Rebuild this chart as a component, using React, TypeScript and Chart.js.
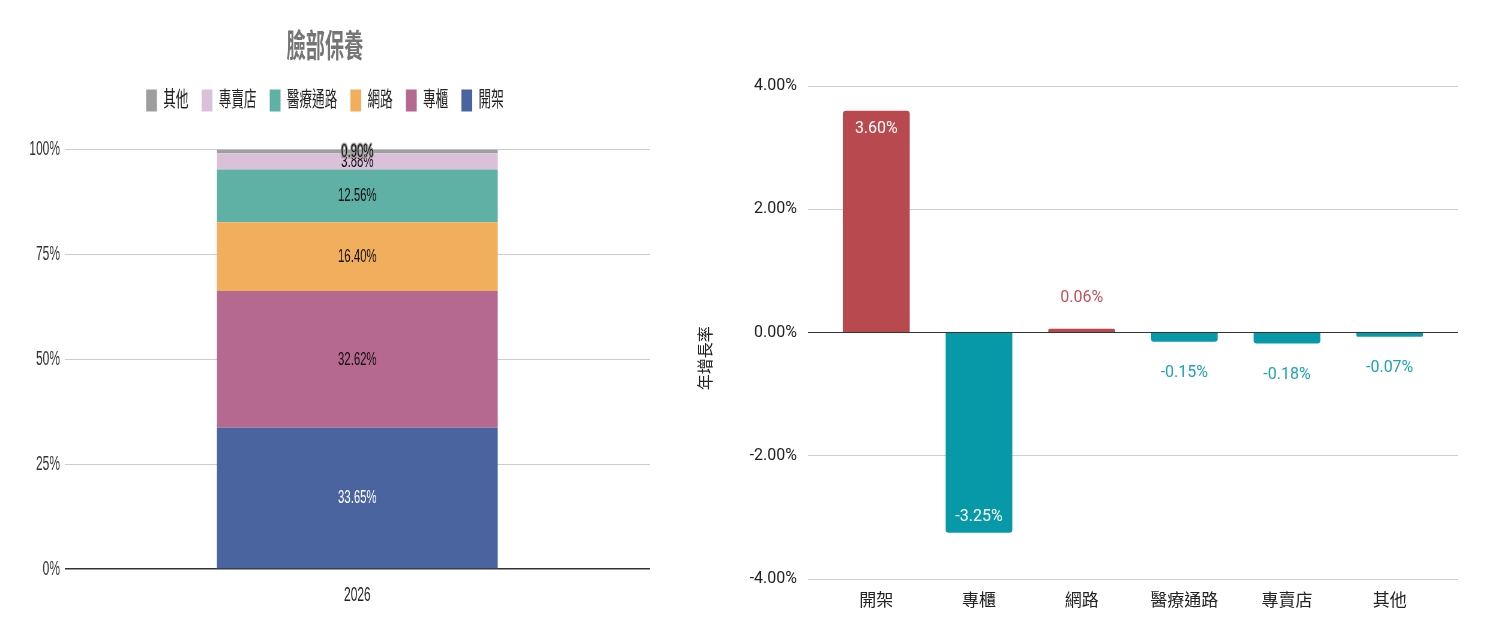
import { useEffect, useRef } from 'react';
import { Chart, registerables } from 'chart.js';

Chart.register(...registerables);

// 臉部保養 channel share (100% stacked) and year-on-year growth
const shareYears = ['2026'];
const channels = ['開架', '專櫃', '網路', '醫療通路', '專賣店', '其他'];
const shareValues = [33.65, 32.62, 16.4, 12.56, 3.88, 0.9];
const shareTicks = [0, 25, 50, 75, 100];
const growthValues = [3.6, -3.25, 0.06, -0.15, -0.18, -0.07];
const growthTicks = [-4, -2, 0, 2, 4];

const shareColors = ['#4a64a0', '#b66990', '#f1ae5d', '#5fb0a5', '#dbc0da', '#9e9e9e'];
const POS = '#b8494e';
const NEG = '#0899a9';
const POS_TEXT = '#c4515a';
const NEG_TEXT = '#1ea3b3';

const LEFT_FONT = "'Liberation Sans', 'Noto Sans CJK TC', sans-serif";
const RIGHT_FONT = "Roboto, 'Noto Sans CJK TC', sans-serif";

const shareLabels = {
  id: 'shareLabels',
  afterDatasetsDraw(chart: any) {
    const ctx = chart.ctx;
    ctx.save();
    ctx.font = `19px ${LEFT_FONT}`;
    ctx.textAlign = 'center';
    ctx.textBaseline = 'middle';
    ctx.lineJoin = 'round';
    chart.data.datasets.forEach((ds: any, i: number) => {
      chart.getDatasetMeta(i).data.forEach((bar: any, j: number) => {
        const text = Number(ds.data[j]).toFixed(2) + '%';
        const y = (bar.y + bar.base) / 2;
        ctx.lineWidth = 3;
        ctx.strokeStyle = ds.backgroundColor;
        ctx.strokeText(text, bar.x, y);
        ctx.fillStyle = i === 0 ? '#ffffff' : '#111111';
        ctx.fillText(text, bar.x, y);
      });
    });
    ctx.restore();
  },
};

const growthLabels = {
  id: 'growthLabels',
  afterDatasetsDraw(chart: any) {
    const ctx = chart.ctx;
    ctx.save();
    ctx.font = `16px ${RIGHT_FONT}`;
    ctx.textAlign = 'center';
    ctx.textBaseline = 'middle';
    chart.getDatasetMeta(0).data.forEach((bar: any, j: number) => {
      const v = growthValues[j];
      const up = v >= 0;
      const inside = Math.abs(bar.base - bar.y) > 40;
      let y;
      if (inside) {
        y = up ? bar.y + 18 : bar.y - 16;
        ctx.fillStyle = '#ffffff';
      } else {
        y = up ? bar.y - 31 : bar.y + 31;
        ctx.fillStyle = up ? POS_TEXT : NEG_TEXT;
      }
      ctx.fillText(v.toFixed(2) + '%', bar.x, y);
    });
    ctx.restore();
  },
};

export default function App() {
  const shareRef = useRef<HTMLCanvasElement>(null);
  const growthRef = useRef<HTMLCanvasElement>(null);

  useEffect(() => {
    const shareChart = new Chart(shareRef.current!, {
      type: 'bar',
      data: {
        labels: shareYears,
        datasets: channels.map((c, i) => ({
          label: c,
          data: [shareValues[i]],
          backgroundColor: shareColors[i],
          borderWidth: 0,
          categoryPercentage: 1,
          barPercentage: 0.48,
        })),
      },
      options: {
        responsive: false,
        animation: false,
        layout: { padding: { top: 0, left: 0, right: 50, bottom: 0 } },
        plugins: {
          title: {
            display: true,
            text: '臉部保養',
            color: '#757575',
            font: { family: LEFT_FONT, size: 32, weight: 'bold' },
            padding: { top: 29, bottom: 0 },
          },
          legend: {
            position: 'top',
            reverse: true,
            labels: {
              boxWidth: 18,
              boxHeight: 22,
              padding: 22,
              color: '#222',
              font: { family: LEFT_FONT, size: 21 },
            },
          },
          // spacer between legend and plot
          subtitle: {
            display: true,
            text: ' ',
            weight: 500,
            font: { size: 1 },
            padding: { top: 27, bottom: 0 },
          },
          tooltip: { enabled: false },
        },
        scales: {
          x: {
            stacked: true,
            grid: { display: false },
            border: { display: false },
            ticks: { color: '#222', font: { family: LEFT_FONT, size: 20 }, padding: 6 },
            afterFit: (s: any) => { s.height = 68; },
          },
          y: {
            stacked: true,
            min: 0,
            max: 100,
            afterBuildTicks: (s: any) => { s.ticks = shareTicks.map((v) => ({ value: v })); },
            ticks: {
              color: '#333',
              font: { family: LEFT_FONT, size: 20 },
              padding: 8,
              callback: (v: any) => v + '%',
            },
            grid: {
              drawTicks: false,
              color: (c: any) => (c.tick && c.tick.value === 0 ? '#333' : '#cccccc'),
              lineWidth: (c: any) => (c.tick && c.tick.value === 0 ? 1.5 : 1),
            },
            border: { display: false },
            afterFit: (s: any) => { s.width = 108; },
          },
        },
      },
      plugins: [shareLabels],
    } as any);

    const gridColor = (c: any) => (c.tick && c.tick.value === 0 ? '#333' : '#d0d0d0');

    const growthChart = new Chart(growthRef.current!, {
      type: 'bar',
      data: {
        labels: channels,
        datasets: [{
          label: '年增長率',
          data: growthValues,
          backgroundColor: growthValues.map((v) => (v >= 0 ? POS : NEG)),
          borderRadius: 3,
          categoryPercentage: 1,
          barPercentage: 0.65,
          yAxisID: 'y',
        }],
      },
      options: {
        responsive: false,
        animation: false,
        layout: { padding: { top: 86, left: 0, right: 41, bottom: 0 } },
        plugins: {
          legend: { display: false },
          tooltip: { enabled: false },
        },
        scales: {
          x: {
            grid: { display: false },
            border: { display: false },
            ticks: { color: '#222', font: { family: RIGHT_FONT, size: 17 }, padding: 5 },
            afterFit: (s: any) => { s.height = 58; },
          },
          y: {
            min: -4,
            max: 4,
            afterBuildTicks: (s: any) => { s.ticks = growthTicks.map((v) => ({ value: v })); },
            ticks: {
              color: '#222',
              font: { family: RIGHT_FONT, size: 16 },
              padding: 11,
              callback: (v: any) => Number(v).toFixed(2) + '%',
            },
            title: {
              display: true,
              // trailing spaces nudge the rotated title below the axis centre, as in the source
              text: '年增長率             ',
              color: '#222',
              font: { family: RIGHT_FONT, size: 16 },
              padding: { top: 17, bottom: 0 },
            },
            grid: { color: gridColor, tickLength: 17 },
            border: { display: false },
            afterFit: (s: any) => { s.width = 145; },
          },
          y2: {
            position: 'right',
            min: -4,
            max: 4,
            afterBuildTicks: (s: any) => { s.ticks = growthTicks.map((v) => ({ value: v })); },
            ticks: { display: false },
            grid: { color: gridColor, drawOnChartArea: false, tickLength: 17 },
            border: { display: false },
            afterFit: (s: any) => { s.width = 17; },
          },
        },
      },
      plugins: [growthLabels],
    } as any);

    return () => {
      shareChart.destroy();
      growthChart.destroy();
    };
  }, []);

  return (
    <div style={{ position: 'fixed', left: 0, top: 0, width: 1499, height: 637, background: '#fff', overflow: 'hidden' }}>
      <div style={{ position: 'absolute', left: 0, top: 0, width: 680, height: 637, overflow: 'hidden' }}>
        <div style={{ width: 1133, height: 637, transform: 'scaleX(0.6)', transformOrigin: '0 0' }}>
          <canvas ref={shareRef} width={1133} height={637} />
        </div>
      </div>
      <div style={{ position: 'absolute', left: 680, top: 0, width: 819, height: 637 }}>
        <canvas ref={growthRef} width={819} height={637} />
      </div>
    </div>
  );
}
